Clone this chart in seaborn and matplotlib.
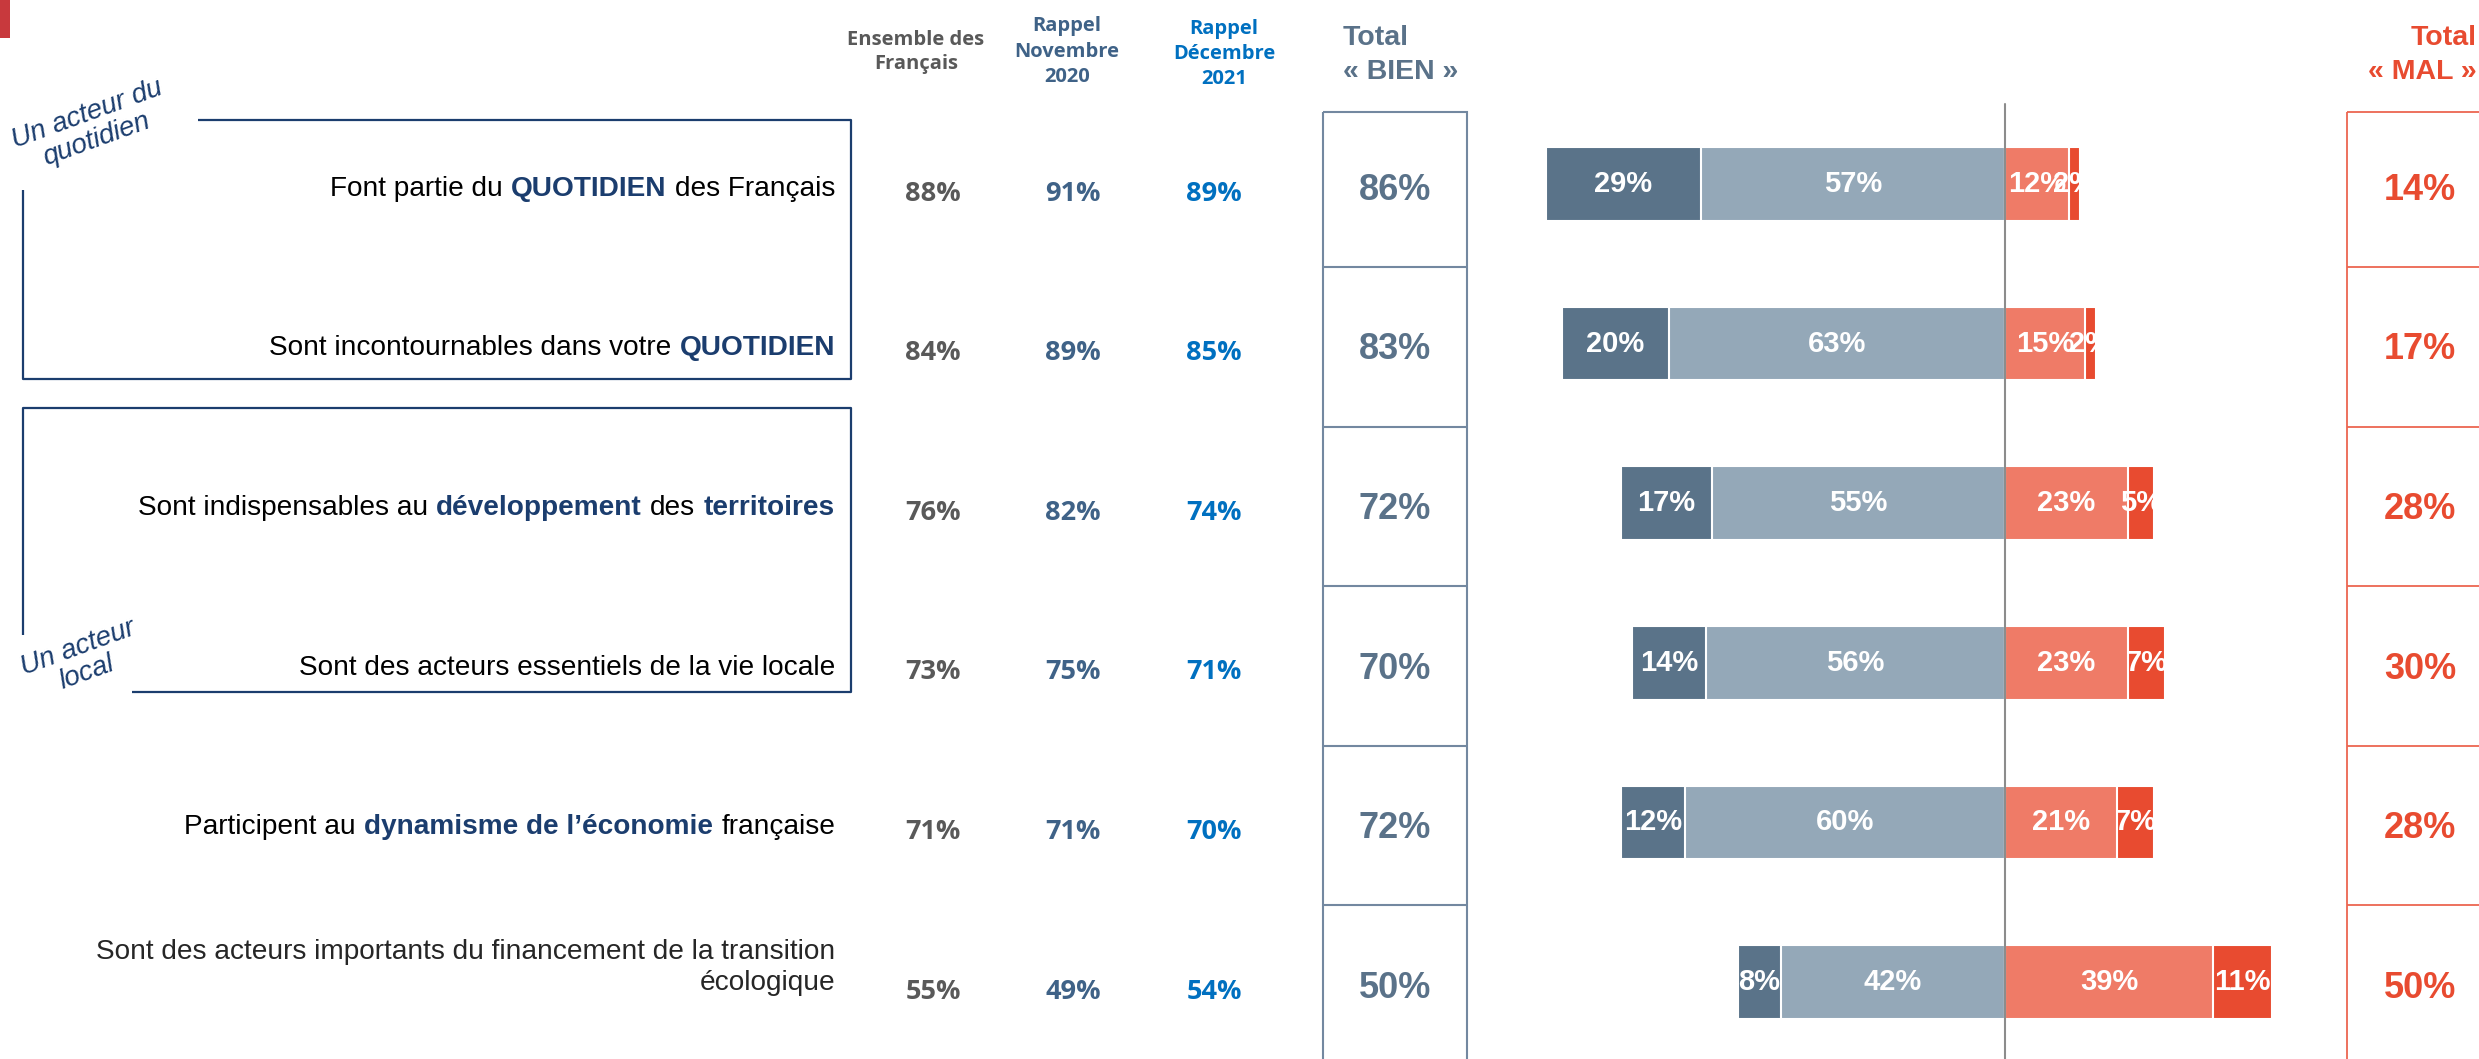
import numpy as np
import pandas as pd
import matplotlib.pyplot as plt
from matplotlib.patches import Rectangle
import seaborn as sns

# ─────────────────────────────────────────────
# Image des banques — barres divergentes BIEN / MAL + colonnes de rappel
# ─────────────────────────────────────────────

W, H, DPI = 2479, 1059, 100

items = [
    "Font partie du QUOTIDIEN des Français",
    "Sont incontournables dans votre QUOTIDIEN",
    "Sont indispensables au développement des territoires",
    "Sont des acteurs essentiels de la vie locale",
    "Participent au dynamisme de l’économie française",
    "Sont des acteurs importants du financement de la transition écologique",
]
# same labels split into (text, highlighted) runs
label_parts = [
    [("Font partie du", False), ("QUOTIDIEN", True), ("des Français", False)],
    [("Sont incontournables dans votre", False), ("QUOTIDIEN", True)],
    [("Sont indispensables au", False), ("développement", True), ("des", False), ("territoires", True)],
    [("Sont des acteurs essentiels de la vie locale", False)],
    [("Participent au", False), ("dynamisme de l’économie", True), ("française", False)],
    [("Sont des acteurs importants du financement de la transition\nécologique", False)],
]

tres_bien  = [29, 20, 17, 14, 12, 8]
assez_bien = [57, 63, 55, 56, 60, 42]
assez_mal  = [12, 15, 23, 23, 21, 39]
tres_mal   = [2, 2, 5, 7, 7, 11]

ensemble    = [88, 84, 76, 73, 71, 55]
rappel_2020 = [91, 89, 82, 75, 71, 49]
rappel_2021 = [89, 85, 74, 71, 70, 54]
total_bien  = [86, 83, 72, 70, 72, 50]
total_mal   = [14, 17, 28, 30, 28, 50]

# colours
DARK   = "#5A7389"
LIGHT  = "#94A8B8"
SALMON = "#EF7B67"
RED    = "#E84B30"
NAVY   = "#1B3D6E"
SLATE  = "#5A7289"
GREY   = "#595959"
NOV    = "#3F6287"
DEC    = "#0070C0"

sns.set_style("white")
plt.rcParams["font.family"] = ["Liberation Sans", "DejaVu Sans"]

# layout (pixels of the final image)
ROW0, STEP = 184, 159.6          # centre of first row, row pitch
ZERO, PPP = 2005, 5.335          # x of the 0 line, pixels per percent
XMIN, XMAX = -90, 80

def py(ypix):
    return (ypix - ROW0) / STEP

YLIM = (py(H), py(0))

df = pd.DataFrame({"item": items, "tb": tres_bien, "ab": assez_bien,
                   "am": assez_mal, "tm": tres_mal})

fig = plt.figure(figsize=(W / DPI, H / DPI), dpi=DPI)
fig.patch.set_facecolor("white")

ax_tab = fig.add_axes([0, 0, 1, 1])
ax_tab.set_xlim(0, W)
ax_tab.set_ylim(*YLIM)
ax_tab.axis("off")

ax_bar = fig.add_axes([(ZERO + XMIN * PPP) / W, 0, (XMAX - XMIN) * PPP / W, 1])
ax_bar.patch.set_alpha(0)

# stacked diverging bars: longest first, shorter drawn on top
stacks = [(-(df["tb"] + df["ab"]), DARK), (-df["ab"], LIGHT),
          (df["am"] + df["tm"], RED), (df["am"], SALMON)]
for vals, col in stacks:
    sns.barplot(x=vals, y=df["item"], orient="h", color=col, saturation=1,
                width=0.46, errorbar=None, edgecolor="white", linewidth=1.5,
                ax=ax_bar)

ax_bar.set_xlim(XMIN, XMAX)
ax_bar.set_ylim(*YLIM)
ax_bar.axis("off")
ax_bar.axvline(0, ymin=0, ymax=1 - 104 / H, color="#8C8C8C", lw=1.5, zorder=5)

for i, r in df.iterrows():
    centers = [(-(r.ab + r.tb / 2), r.tb), (-r.ab / 2, r.ab),
               (r.am / 2, r.am), (r.am + r.tm / 2, r.tm)]
    for xc, v in centers:
        ax_bar.text(xc, i, f"{v}%", ha="center", va="center", color="white",
                    fontsize=21, fontweight="bold", zorder=6)

# left labels, with bold navy runs
LABEL_X = 835
LSIZE = 20.2
for i, parts in enumerate(label_parts):
    if len(parts) == 1 and "\n" in parts[0][0]:
        ax_tab.text(LABEL_X, i - 0.09, parts[0][0], ha="right", va="center",
                    fontsize=LSIZE, linespacing=1.25, multialignment="right")
        continue
    anchor = None
    for txt, bold in reversed(parts):
        kw = dict(fontsize=LSIZE, color=NAVY if bold else "black",
                  fontweight="bold" if bold else "normal", ha="right")
        if anchor is None:
            anchor = ax_tab.text(LABEL_X, i + 0.03, txt, va="center", **kw)
        else:
            anchor = ax_tab.annotate(txt, xy=(0, 0), xycoords=anchor,
                                     xytext=(-0.3 * LSIZE, 0),
                                     textcoords="offset points", va="bottom", **kw)

# group frames
box1 = [(198, 120), (851, 120), (851, 379), (23, 379), (23, 190)]
box2 = [(132, 692), (851, 692), (851, 408), (23, 408), (23, 635)]
for pts in (box1, box2):
    xs, ys = zip(*pts)
    ax_tab.plot(xs, [py(y) for y in ys], color=NAVY, lw=1.6,
                solid_capstyle="butt")

ax_tab.text(92, py(127), "Un acteur du\nquotidien", rotation=20,
            rotation_mode="anchor", ha="center", va="center", style="italic",
            color=NAVY, fontsize=20, linespacing=1.0)
ax_tab.text(82, py(660), "Un acteur\nlocal", rotation=20,
            rotation_mode="anchor", ha="center", va="center", style="italic",
            color=NAVY, fontsize=20, linespacing=1.0)

# red tab top-left
ax_tab.add_patch(Rectangle((0, py(38)), 10, py(0) - py(38), color="#C8393D",
                           lw=0))

# comparison columns
cols = [(933, 916, 30, 1.25, ensemble, GREY, "Ensemble des\nFrançais"),
        (1073, 1067, 16, 1.38, rappel_2020, NOV, "Rappel\nNovembre\n2020"),
        (1214, 1224, 19, 1.33, rappel_2021, DEC, "Rappel\nDécembre\n2021")]
for xv, xh, top, ls, vals, col, head in cols:
    ax_tab.text(xh, py(top), head, ha="center", va="top", color=col,
                fontsize=14.5, fontweight="bold", family="Open Sans",
                linespacing=ls)
    for i, v in enumerate(vals):
        ax_tab.text(xv, i + 0.06, f"{v}%", ha="center", va="center", color=col,
                    fontsize=19.5, fontweight="bold", family="Open Sans")

# Total BIEN / Total MAL boxes
n = len(items)
for x0, x1, col, lw in [(1323, 1467, "#7388A0", 1.5), (2347, W + 20, "#EC6650", 1.3)]:
    ax_tab.add_patch(Rectangle((x0, -0.45), x1 - x0, n + 1, fill=False,
                               edgecolor=col, lw=lw))
    ax_tab.hlines([k + 0.52 for k in range(n - 1)], x0, x1, color=col, lw=lw)

for i in range(n):
    ax_tab.text(1395, i + 0.04, f"{total_bien[i]}%", ha="center", va="center",
                color=SLATE, fontsize=26, fontweight="bold")
    ax_tab.text(2420, i + 0.04, f"{total_mal[i]}%", ha="center", va="center",
                color=RED, fontsize=26, fontweight="bold")

ax_tab.text(1343, py(25), "Total\n« BIEN »", ha="left", va="top", color=SLATE,
            fontsize=20.5, fontweight="bold", linespacing=1.4)
ax_tab.text(2477, py(25), "Total\n« MAL »", ha="right", va="top", color=RED,
            fontsize=20.5, fontweight="bold", linespacing=1.4,
            multialignment="right")

plt.savefig("out.png", dpi=DPI, facecolor="white")
plt.close()
